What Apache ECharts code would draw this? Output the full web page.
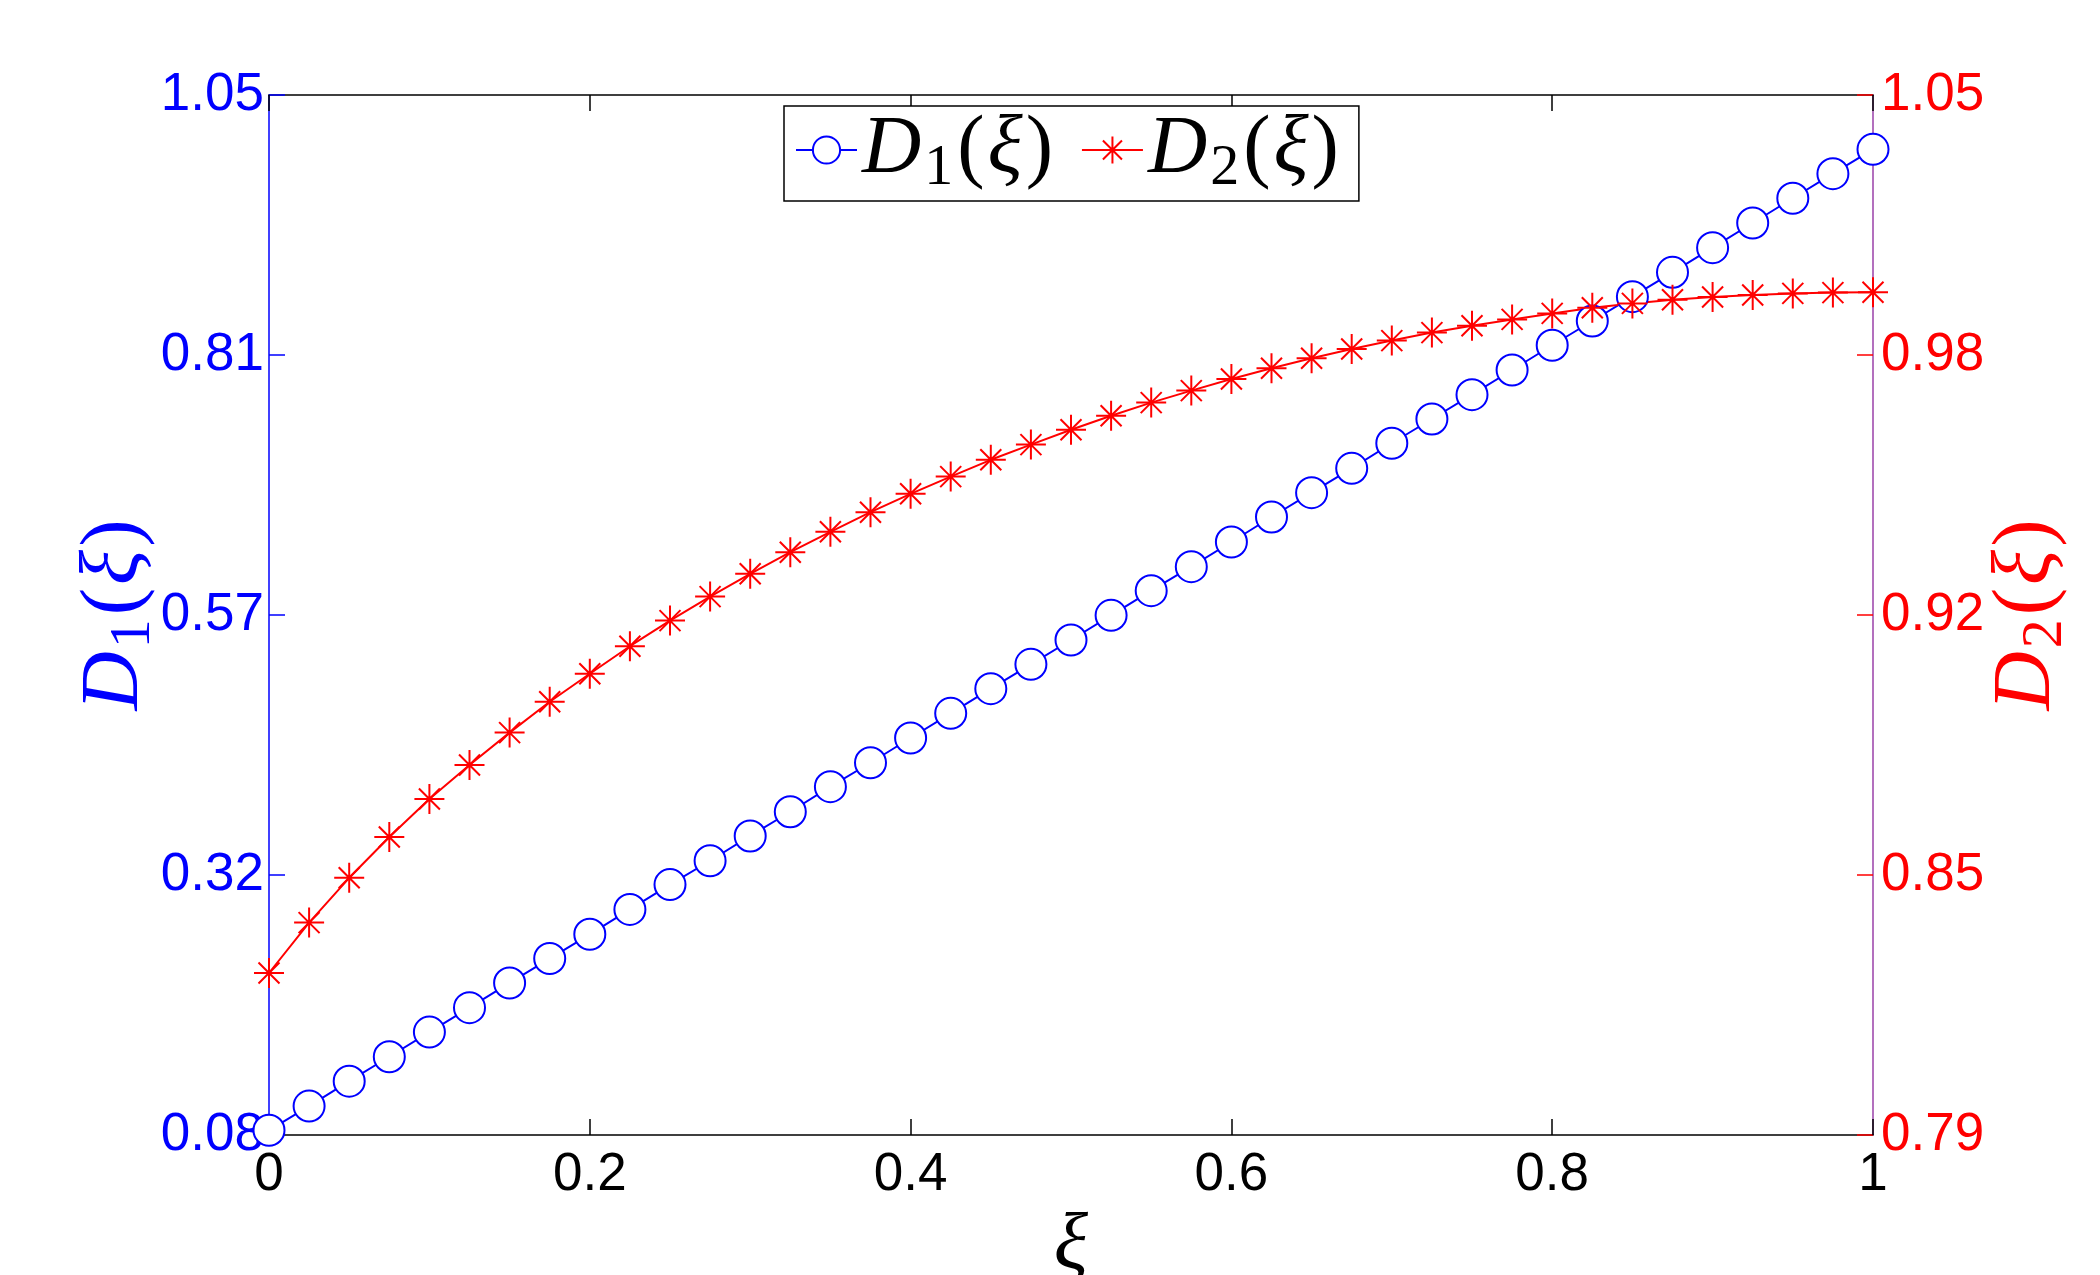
<!DOCTYPE html>
<html>
<head>
<meta charset="utf-8">
<script src="https://cdn.jsdelivr.net/npm/echarts@6/dist/echarts.min.js"></script>
<style>
  html, body { margin: 0; padding: 0; background: #fff; }
  #chart { width: 2100px; height: 1275px; }
</style>
</head>
<body>
<div id="chart"></div>
<script>
// xi grid
var xi = [0, 0.025, 0.05, 0.075, 0.1, 0.125, 0.15, 0.175, 0.2, 0.225, 0.25, 0.275, 0.3, 0.325, 0.35, 0.375, 0.4, 0.425, 0.45, 0.475, 0.5,
  0.525, 0.55, 0.575, 0.6, 0.625, 0.65, 0.675, 0.7, 0.725, 0.75, 0.775, 0.8, 0.825, 0.85, 0.875, 0.9, 0.925, 0.95, 0.975, 1];

// D1 (left axis)
var d1 = [0.0844, 0.1070, 0.1302, 0.1530, 0.1760, 0.1988, 0.2218, 0.2446, 0.2672, 0.2904, 0.3136, 0.3358, 0.3589, 0.3815, 0.4049,
  0.4272, 0.4503, 0.4733, 0.4963, 0.5190, 0.5417, 0.5647, 0.5877, 0.6101, 0.6331, 0.6564, 0.6791, 0.7018, 0.7252, 0.7478,
  0.7705, 0.7935, 0.8166, 0.8392, 0.8619, 0.8846, 0.9076, 0.9306, 0.9537, 0.9766, 0.9993];

// D2 (right axis)
var d2 = [0.8305, 0.8431, 0.8543, 0.8645, 0.8740, 0.8825, 0.8906, 0.8983, 0.9053, 0.9122, 0.9186, 0.9246, 0.9303, 0.9357, 0.9408,
  0.9457, 0.9503, 0.9546, 0.9588, 0.9626, 0.9663, 0.9698, 0.9731, 0.9761, 0.9790, 0.9817, 0.9842, 0.9865, 0.9886, 0.9906,
  0.9923, 0.9939, 0.9954, 0.9968, 0.9979, 0.9988, 0.9995, 1.0000, 1.0004, 1.0006, 1.0007];

// tick positions + labels
var xTicks = [0, 0.2, 0.4, 0.6, 0.8, 1];
var xTickLabels = ['0', '0.2', '0.4', '0.6', '0.8', '1'];
var leftTicks = [0.08, 0.3225, 0.565, 0.8075, 1.05];
var leftTickLabels = ['0.08', '0.32', '0.57', '0.81', '1.05'];
var rightTicks = [0.79, 0.855, 0.92, 0.985, 1.05];
var rightTickLabels = ['0.79', '0.85', '0.92', '0.98', '1.05'];

var BLUE = '#0000ff', RED = '#ff0000';

function pickLabel(ticks, labels) {
  return function (v) {
    for (var i = 0; i < ticks.length; i++) {
      if (Math.abs(ticks[i] - v) < 1e-6) return labels[i];
    }
    return '';
  };
}

// D_n(xi) rich text styles
function mathRich(color) {
  var f = 'Liberation Serif';
  return {
    d: { fontFamily: f, fontStyle: 'italic', fontSize: 82, color: color, lineHeight: 96, verticalAlign: 'middle', padding: [0, 3, 0, 0] },
    s: { fontFamily: f, fontSize: 58, color: color, lineHeight: 62, verticalAlign: 'bottom', padding: [0, 4, 0, 0] },
    p: { fontFamily: f, fontSize: 82, color: color, lineHeight: 96, verticalAlign: 'middle' },
    x: { fontFamily: f, fontStyle: 'italic', fontSize: 82, color: color, lineHeight: 96, verticalAlign: 'middle', padding: [0, 3, 0, 3] }
  };
}
function mathName(n) {
  return '{d|D}{s|' + n + '}{p|(}{x|ξ}{p|)}';
}

var pairs1 = [], pairs2 = [];
for (var i = 0; i < xi.length; i++) {
  pairs1.push([xi[i], d1[i]]);
  pairs2.push([xi[i], d2[i]]);
}

var labelFont = { fontFamily: 'Liberation Sans', fontSize: 53 };

var myChart = echarts.init(document.getElementById('chart'));
var option = {
  animation: false,
  backgroundColor: '#fff',
  grid: { left: 269, right: 227, top: 95, bottom: 140, outerBoundsMode: 'none' },
  legend: {
    left: 784,
    top: 106,
    orient: 'horizontal',
    backgroundColor: '#fff',
    borderColor: '#000',
    borderWidth: 1.5,
    padding: [3, 20, 3, 11],
    itemWidth: 61,
    itemHeight: 34,
    itemGap: 28,
    data: ['D1', 'D2'],
    formatter: function (name) { return mathName(name.slice(1)); },
    textStyle: { color: '#000', rich: mathRich('#000') }
  },
  xAxis: [{
    type: 'value', position: 'bottom', min: 0, max: 1, interval: 0.2,
    name: 'ξ', nameLocation: 'middle', nameGap: 72, nameMoveOverlap: false,
    nameTextStyle: { fontFamily: 'Liberation Serif', fontStyle: 'italic', fontSize: 80, color: '#000' },
    axisLine: { onZero: false, lineStyle: { color: '#000', width: 1.5 } },
    axisTick: { inside: true, length: 16, lineStyle: { color: '#000', width: 1.5 } },
    axisLabel: Object.assign({ color: '#000', margin: 14, formatter: pickLabel(xTicks, xTickLabels) }, labelFont),
    splitLine: { show: false }
  }, {
    type: 'value', position: 'top', min: 0, max: 1, interval: 0.2,
    axisLine: { onZero: false, lineStyle: { color: '#000', width: 1.5 } },
    axisTick: { inside: true, length: 16, lineStyle: { color: '#000', width: 1.5 } },
    axisLabel: { show: false },
    splitLine: { show: false }
  }],
  yAxis: [{
    type: 'value', position: 'left', min: 0.08, max: 1.05,
    name: mathName(1), nameLocation: 'middle', nameGap: 106, nameRotate: 90, nameMoveOverlap: false,
    nameTextStyle: { rich: mathRich(BLUE) },
    axisLine: { onZero: false, lineStyle: { color: BLUE, width: 1.5 } },
    axisTick: { inside: true, length: 16, customValues: leftTicks, lineStyle: { color: BLUE, width: 1.5 } },
    axisLabel: Object.assign({ color: BLUE, margin: 5, customValues: leftTicks, formatter: pickLabel(leftTicks, leftTickLabels) }, labelFont),
    splitLine: { show: false }
  }, {
    type: 'value', position: 'right', min: 0.79, max: 1.05,
    name: mathName(2), nameLocation: 'middle', nameGap: 106, nameRotate: 90, nameMoveOverlap: false,
    nameTextStyle: { rich: mathRich(RED) },
    axisLine: { onZero: false, lineStyle: { color: '#9a40a8', width: 1.5 } },
    axisTick: { inside: true, length: 16, customValues: rightTicks, lineStyle: { color: RED, width: 1.5 } },
    axisLabel: Object.assign({ color: RED, margin: 8, customValues: rightTicks, formatter: pickLabel(rightTicks, rightTickLabels) }, labelFont),
    splitLine: { show: false }
  }],
  series: [{
    name: 'D1',
    type: 'line',
    xAxisIndex: 0, yAxisIndex: 0,
    data: pairs1,
    symbol: 'emptyCircle',
    symbolSize: 31,
    lineStyle: { color: BLUE, width: 2 },
    itemStyle: { color: BLUE, borderColor: BLUE, borderWidth: 2 }
  }, {
    name: 'D2',
    type: 'line',
    xAxisIndex: 0, yAxisIndex: 1,
    data: pairs2,
    symbol: 'path://M10,0L10,20M0,10L20,10M3,3L17,17M3,17L17,3',
    symbolSize: 30,
    lineStyle: { color: RED, width: 2 },
    itemStyle: { color: RED, borderColor: RED, borderWidth: 2 }
  }]
};
myChart.setOption(option);
</script>
</body>
</html>
